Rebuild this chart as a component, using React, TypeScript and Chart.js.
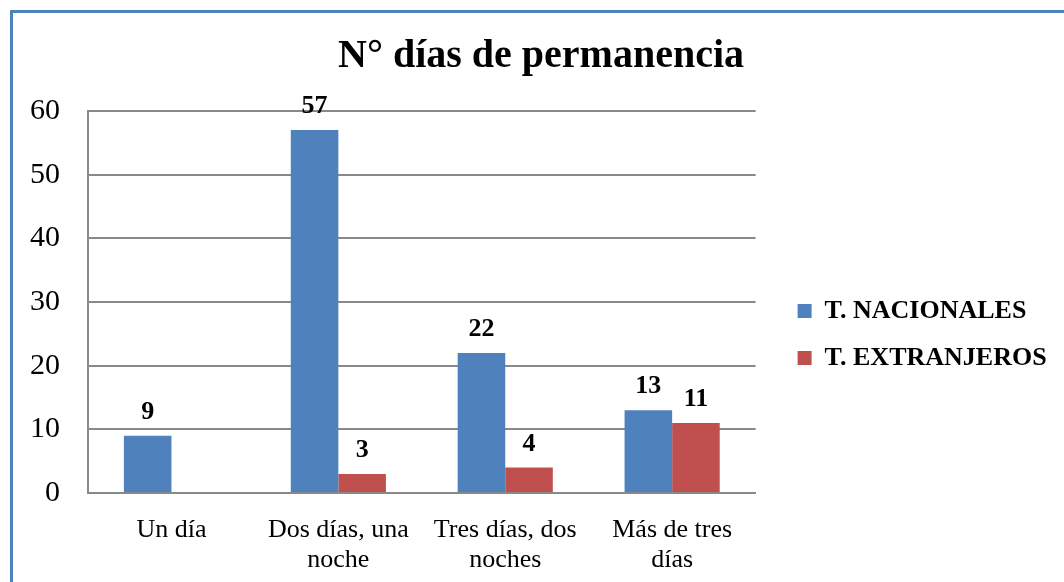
import React, { useEffect, useRef } from "react";
import { Chart, registerables } from "chart.js";

Chart.register(...registerables);

const categories: string[][] = [
  ["Un día"],
  ["Dos días, una", "noche"],
  ["Tres días, dos", "noches"],
  ["Más de tres", "días"],
];
const nacionales: number[] = [9, 57, 22, 13];
const extranjeros: number[] = [0, 3, 4, 11];
const seriesNames: string[] = ["T. NACIONALES", "T. EXTRANJEROS"];
const titleText = "N° días de permanencia";

const FONT = "'Liberation Serif', 'Times New Roman', serif";

const valueLabels = {
  id: "valueLabels",
  afterDatasetsDraw(chart: any) {
    const ctx = chart.ctx;
    ctx.save();
    ctx.font = `bold 26px ${FONT}`;
    ctx.fillStyle = "#000";
    ctx.textAlign = "center";
    ctx.textBaseline = "alphabetic";
    chart.data.datasets.forEach((ds: any, di: number) => {
      const meta = chart.getDatasetMeta(di);
      meta.data.forEach((bar: any, i: number) => {
        const v = ds.data[i];
        if (!v) return;
        ctx.fillText(String(v), bar.x, bar.y - 17);
      });
    });
    ctx.restore();
  },
};

export default function App() {
  const ref = useRef<HTMLCanvasElement | null>(null);
  useEffect(() => {
    if (!ref.current) return;
    const chart = new Chart(ref.current, {
      type: "bar",
      data: {
        labels: categories,
        datasets: [
          { label: seriesNames[0], data: nacionales, backgroundColor: "#4F81BD", borderWidth: 0 },
          { label: seriesNames[1], data: extranjeros, backgroundColor: "#C0504D", borderWidth: 0 },
        ],
      },
      options: {
        animation: false,
        responsive: false,
        maintainAspectRatio: false,
        layout: { padding: { left: 12.4, right: 7.4, top: 0, bottom: 0 } },
        datasets: { bar: { categoryPercentage: 0.57, barPercentage: 1 } },
        plugins: {
          title: {
            display: true,
            text: titleText,
            color: "#000",
            font: { family: FONT, size: 40, weight: "bold", lineHeight: 1.2 },
            padding: { top: 20, bottom: 30 },
          },
          legend: {
            position: "right",
            align: "center",
            maxWidth: 400,
            title: {
              display: true,
              text: "",
              font: { size: 1, lineHeight: 1 },
              padding: { top: 73, bottom: 0 },
            },
            labels: {
              boxWidth: 14,
              boxHeight: 14,
              padding: 21,
              color: "#000",
              font: { family: FONT, size: 26, weight: "bold" },
            },
          },
          tooltip: { enabled: false },
        },
        scales: {
          x: {
            grid: { display: false },
            border: { display: true, color: "#898989", width: 2 },
            ticks: {
              color: "#000",
              padding: 14,
              maxRotation: 0,
              autoSkip: false,
              font: { family: FONT, size: 26, lineHeight: 1.15 },
            },
            afterFit: (s: any) => {
              s.height = 89;
            },
          },
          y: {
            min: 0,
            max: 60,
            ticks: {
              stepSize: 10,
              color: "#000",
              padding: 28,
              font: { family: FONT, size: 30 },
            },
            grid: { color: "#898989", lineWidth: 2, drawTicks: false },
            border: { display: true, color: "#898989", width: 2 },
            afterFit: (s: any) => {
              s.width = 62.6;
            },
          },
          gap: {
            type: "linear",
            position: "right",
            display: true,
            min: 0,
            max: 60,
            grid: { display: false, drawTicks: false },
            border: { display: false },
            ticks: { display: false },
            afterFit: (s: any) => {
              s.width = 21;
            },
          },
        },
      },
      plugins: [valueLabels],
    });
    return () => chart.destroy();
  }, []);

  return (
    <div
      style={{
        position: "fixed",
        left: 0,
        top: 0,
        width: 1064,
        height: 582,
        background: "#fff",
        overflow: "hidden",
      }}
    >
      <div
        style={{
          position: "absolute",
          left: 10,
          top: 10,
          width: 1064,
          height: 582,
          borderTop: "3px solid #4F81BD",
          borderLeft: "3px solid #4F81BD",
        }}
      />
      <canvas
        ref={ref}
        width={1051}
        height={569}
        style={{ position: "absolute", left: 13, top: 13, width: 1051, height: 569 }}
      />
    </div>
  );
}
